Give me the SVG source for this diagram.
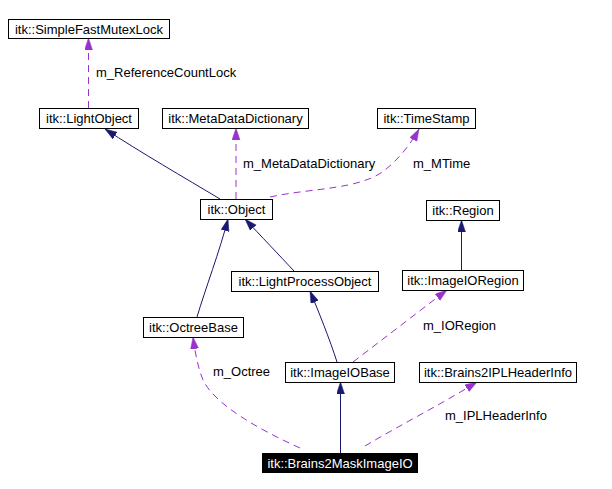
<svg xmlns="http://www.w3.org/2000/svg" width="612" height="489" viewBox="0 0 612 489">
<style>
  .box { fill: #ffffff; stroke: #000000; stroke-width: 1; }
  .boxdark { fill: #000000; stroke: #000000; stroke-width: 1; }
  text { font-family: "Liberation Sans", Arial, sans-serif; font-size: 13px; fill: #000000; }
  .nt { text-anchor: middle; }
  .wt { fill: #ffffff; }
  .inh { fill: none; stroke: #191970; stroke-width: 1; marker-end: url(#arrInh); }
  .use { fill: none; stroke: #9a32cd; stroke-width: 1; stroke-dasharray: 7,5; marker-end: url(#arrUse); }
</style>
<defs>
  <marker id="arrInh" markerUnits="userSpaceOnUse" markerWidth="13" markerHeight="9" refX="12" refY="4" orient="auto">
    <path d="M0,0 L12,4 L0,8 z" fill="#191970" stroke="#191970" stroke-width="0.5"/>
  </marker>
  <marker id="arrUse" markerUnits="userSpaceOnUse" markerWidth="13" markerHeight="9" refX="12" refY="4" orient="auto">
    <path d="M0,0 L12,4 L0,8 z" fill="#9a32cd" stroke="#9a32cd" stroke-width="0.5"/>
  </marker>
</defs>
<rect width="612" height="489" fill="#ffffff"/>

<g id="connectors">
  <path class="inh" d="M220,199 C185,178 140,152 105,129"/>
  <path class="inh" d="M197,317 C205,290 220,250 228,219"/>
  <path class="inh" d="M294,271 C280,256 260,235 245,219"/>
  <path class="inh" d="M337,362 C330,340 318,310 310,291"/>
  <path class="inh" d="M340.5,453 L340.5,382"/>
  <path class="inh" d="M461.5,270 L461.5,220"/>

  <path class="use" d="M88.5,108 L88.5,38"/>
  <path class="use" d="M236,199 L236,128"/>
  <path class="use" d="M270,197 C310,188 360,190 385,170 C400,158 412,142 419,129"/>
  <path class="use" d="M353,362 L447,290"/>
  <path class="use" d="M300,448 C260,430 215,405 203,380 C198,368 195,352 193,337"/>
  <path class="use" d="M365,446 C400,425 440,405 477,382"/>

  <text x="96" y="77">m_ReferenceCountLock</text>
  <text x="243" y="168">m_MetaDataDictionary</text>
  <text x="413" y="168">m_MTime</text>
  <text x="423" y="330">m_IORegion</text>
  <text x="213" y="376">m_Octree</text>
  <text x="445" y="420">m_IPLHeaderInfo</text>
</g>

<g id="n_SimpleFastMutexLock">
  <rect class="box" x="8.5" y="19.5" width="161" height="19"/>
  <text class="nt" x="89" y="33.5">itk::SimpleFastMutexLock</text>
</g>
<g id="n_LightObject">
  <rect class="box" x="39.5" y="108.5" width="99" height="20"/>
  <text class="nt" x="89" y="123">itk::LightObject</text>
</g>
<g id="n_MetaDataDictionary">
  <rect class="box" x="162.5" y="108.5" width="146" height="20"/>
  <text class="nt" x="235.5" y="123">itk::MetaDataDictionary</text>
</g>
<g id="n_TimeStamp">
  <rect class="box" x="377.5" y="108.5" width="98" height="20"/>
  <text class="nt" x="426.5" y="123">itk::TimeStamp</text>
</g>
<g id="n_Object">
  <rect class="box" x="200.5" y="199.5" width="72" height="20"/>
  <text class="nt" x="236.5" y="214">itk::Object</text>
</g>
<g id="n_Region">
  <rect class="box" x="426.5" y="200.5" width="73" height="20"/>
  <text class="nt" x="463" y="215">itk::Region</text>
</g>
<g id="n_LightProcessObject">
  <rect class="box" x="231.5" y="271.5" width="147" height="20"/>
  <text class="nt" x="305" y="286">itk::LightProcessObject</text>
</g>
<g id="n_ImageIORegion">
  <rect class="box" x="402.5" y="270.5" width="121" height="20"/>
  <text class="nt" x="463" y="285">itk::ImageIORegion</text>
</g>
<g id="n_OctreeBase">
  <rect class="box" x="143.5" y="317.5" width="100" height="20"/>
  <text class="nt" x="193.5" y="332">itk::OctreeBase</text>
</g>
<g id="n_ImageIOBase">
  <rect class="box" x="285.5" y="362.5" width="109" height="20"/>
  <text class="nt" x="340" y="377">itk::ImageIOBase</text>
</g>
<g id="n_Brains2IPLHeaderInfo">
  <rect class="box" x="419.5" y="362.5" width="157" height="20"/>
  <text class="nt" x="498" y="377">itk::Brains2IPLHeaderInfo</text>
</g>
<g id="n_Brains2MaskImageIO">
  <rect class="boxdark" x="262.5" y="453.5" width="155" height="19"/>
  <text class="nt wt" x="340" y="467.5">itk::Brains2MaskImageIO</text>
</g>
</svg>
